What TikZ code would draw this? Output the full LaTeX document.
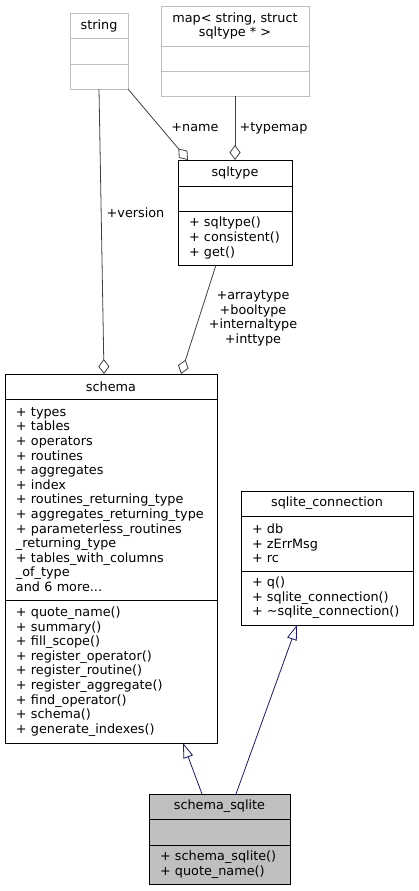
\documentclass[tikz,border=0pt]{standalone}
\usepackage{fontspec}
\newfontfamily\dvs{DejaVu Sans}
\usetikzlibrary{positioning,arrows.meta}
\definecolor{grey75}{HTML}{BFBFBF}
\definecolor{grey25}{HTML}{404040}
\definecolor{navyline}{HTML}{191970}

\begin{document}
\begin{tikzpicture}[x=1pt, y=-1pt,
  every node/.style={font=\dvs\fontsize{12.8}{14.6}\selectfont},
  part/.style={draw, fill=white, inner sep=0pt, outer sep=0pt, line width=0.8pt, align=center},
  lst/.style={part, align=left, inner xsep=11pt},
  ghost/.style={draw=grey75},
  uses/.style={draw=grey25, line width=0.8pt, -{Diamond[open, length=15pt, width=11pt]}},
  isa/.style={draw=navyline, line width=0.8pt, -{Triangle[open, length=15pt, width=10pt]}},
  lbl/.style={align=center, inner sep=0pt}]

\useasboundingbox (0,0) rectangle (419,891);

% string
\node[part, ghost, minimum width=58pt, minimum height=25pt] (strA) at (99,25.5) {string};
\node[part, ghost, minimum width=58pt, minimum height=26pt, below=0pt of strA] (strB) {};
\node[part, ghost, minimum width=58pt, minimum height=25pt, below=0pt of strB] (strC) {};

% map
\node[part, ghost, minimum width=148pt, minimum height=40pt] (mapA) at (235,26) {map< string, struct\\sqltype * >};
\node[part, ghost, minimum width=148pt, minimum height=25pt, below=0pt of mapA] (mapB) {};
\node[part, ghost, minimum width=148pt, minimum height=25pt, below=0pt of mapB] (mapC) {};

% sqltype
\node[part, minimum width=114pt, minimum height=26pt] (sqlA) at (235,173) {sqltype};
\node[part, minimum width=114pt, minimum height=25pt, below=0pt of sqlA] (sqlB) {};
\node[lst, text width=92pt, minimum height=54pt, below=0pt of sqlB] (sqlC) {+~sqltype()\\+~consistent()\\+~get()};

% schema
\node[part, minimum width=212pt, minimum height=25pt] (schA) at (111,386.5) {schema};
\node[lst, text width=190pt, minimum height=201pt, below=0pt of schA] (schB) {+~types\\+~tables\\+~operators\\+~routines\\+~aggregates\\+~index\\+~routines\_returning\_type\\+~aggregates\_returning\_type\\+~parameterless\_routines\\\_returning\_type\\+~tables\_with\_columns\\\_of\_type\\and 6 more...};
\node[lst, text width=190pt, minimum height=143pt, below=0pt of schB] (schC) {+~quote\_name()\\+~summary()\\+~fill\_scope()\\+~register\_operator()\\+~register\_routine()\\+~register\_aggregate()\\+~find\_operator()\\+~schema()\\+~generate\_indexes()};

% sqlite_connection
\node[part, minimum width=172pt, minimum height=25pt] (conA) at (327,503.5) {sqlite\_connection};
\node[lst, text width=150pt, minimum height=55pt, below=0pt of conA] (conB) {+~db\\+~zErrMsg\\+~rc};
\node[lst, text width=150pt, minimum height=54pt, below=0pt of conB] (conC) {+~q()\\+~sqlite\_connection()\\+~\textasciitilde sqlite\_connection()};

% schema_sqlite
\node[part, fill=grey75, minimum width=141pt, minimum height=25pt] (subA) at (219.5,806.5) {schema\_sqlite};
\node[part, fill=grey75, minimum width=141pt, minimum height=26pt, below=0pt of subA] (subB) {};
\node[lst, fill=grey75, text width=119pt, minimum height=39pt, below=0pt of subB] (subC) {+~schema\_sqlite()\\+~quote\_name()};

% usage edges
\draw[uses] (strC.south) -- ([xshift=-7pt]schA.north);
\draw[uses] (strC.south east) -- ([xshift=-47pt]sqlA.north);
\draw[uses] (mapC.south) -- (sqlA.north);
\draw[uses] ([xshift=-19pt]sqlC.south) -- ([xshift=70pt]schA.north);

\node[lbl] (lVersion) at (135.5,213) {+version};
\node[lbl] (lName) at (195,128) {+name};
\node[lbl] (lTypemap) at (273.5,128) {+typemap};
\node[lbl] (lTypes) at (253,318.5) {+arraytype\\+booltype\\+internaltype\\+inttype};

% inheritance
\draw[isa] ([xshift=-17.5pt]subA.north) -- ([xshift=72pt]schC.south);
\draw[isa] ([xshift=16.5pt]subA.north) -- ([xshift=-30pt]conC.south);

\end{tikzpicture}
\end{document}
